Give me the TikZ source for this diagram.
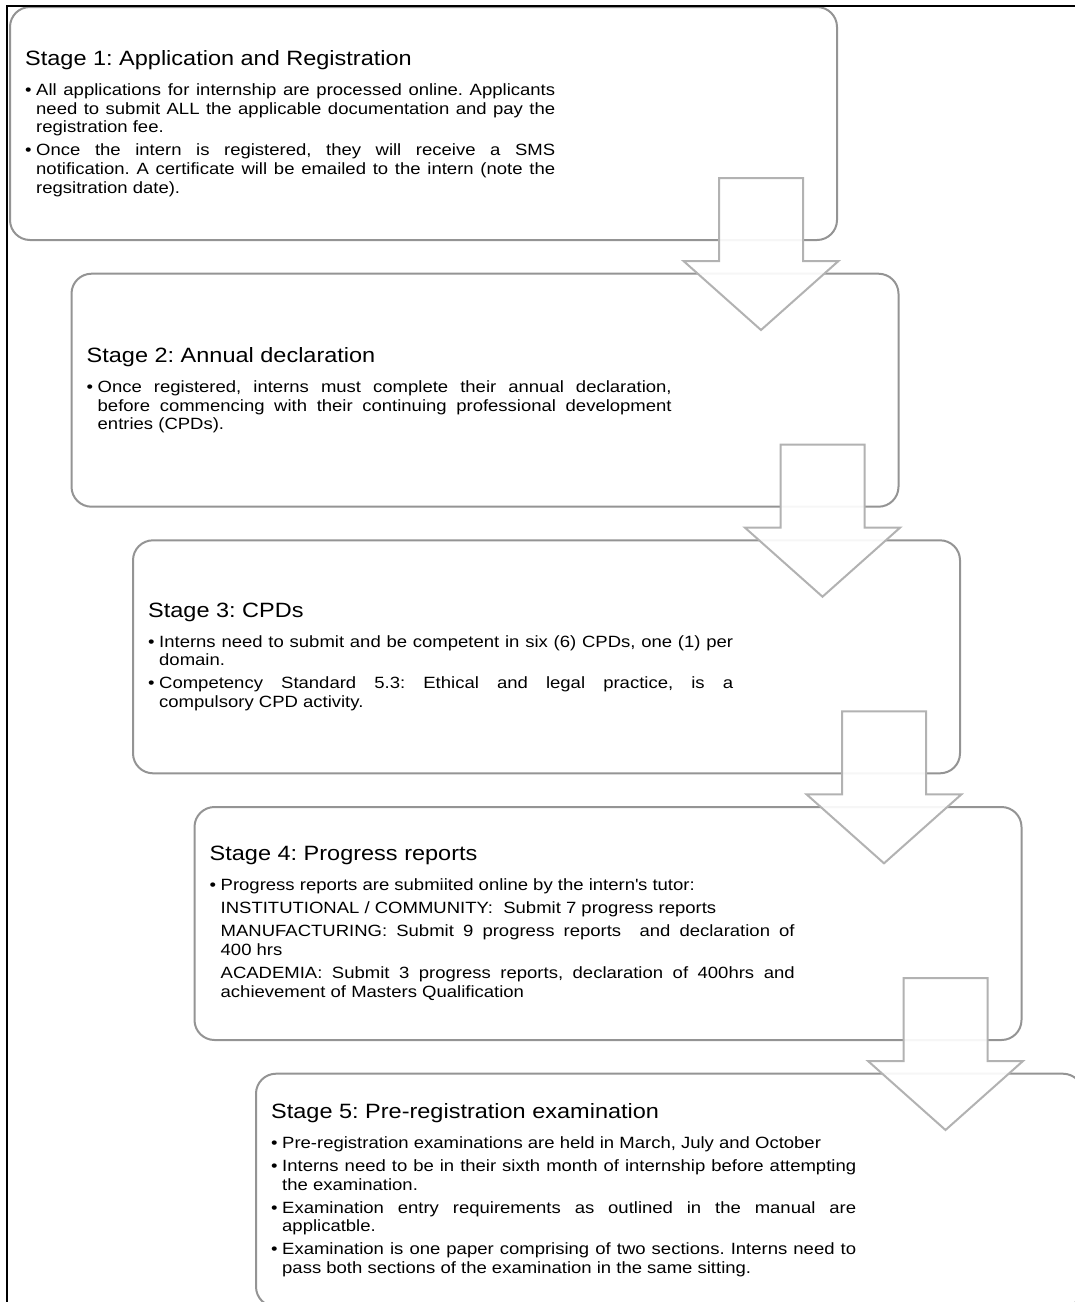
\documentclass[tikz,border=0pt]{standalone}
\usepackage{fontspec}
\setmainfont{Liberation Sans}[FakeStretch=1.135]
\usetikzlibrary{calc}
\definecolor{boxgray}{RGB}{148,148,148}
\definecolor{arrowgray}{RGB}{178,178,178}
\tolerance=10000
\hbadness=10000
\frenchspacing
\newcommand{\stagetitle}[1]{\setlength{\parskip}{4.3pt}{\fontsize{20.7pt}{24pt}\selectfont #1\par}\vspace{7pt}}
\newcommand{\stageitem}[1]{\par\noindent\hangindent=11pt\hangafter=1\makebox[11pt][l]{\textbullet}#1\par}
\newcommand{\stagesub}[1]{\par\noindent\hangindent=11pt\hangafter=0 #1\par}
\tikzset{
    stagebox/.style={draw=boxgray, line width=2pt, fill=white, rounded corners=20pt, outer sep=0pt, inner sep=0pt, minimum width=827pt, minimum height=233pt, anchor=north west},
    stagetext/.style={anchor=west, inner sep=0pt, text width=585pt, align=justify, font=\fontsize{16.3pt}{18.7pt}\selectfont},
    flowarrow/.style={draw=arrowgray, line width=2pt, fill=white, fill opacity=0.92}
}
\begin{document}
\begin{tikzpicture}[x=1pt, y=-1pt]
                \useasboundingbox (0, 0) rectangle (1075, 1302);
                \clip (0, 0) rectangle (1075, 1302);
                \node[stagebox] (s1) at (10, 7) {};
                \node[stagebox] (s2) at (71.5, 273.7) {};
                \node[stagebox] (s3) at (133, 540.3) {};
                \node[stagebox] (s4) at (194.5, 807) {};
                \node[stagebox] (s5) at (256, 1073.7) {};
                \node[stagetext, text width=530pt] (t1) at ($(s1.west)+(15, 0)$) {\stagetitle{Stage 1: Application and Registration}
                    \stageitem{All applications for internship are processed online. Applicants\linebreak need to submit ALL the applicable documentation and pay the\linebreak registration fee.}
                    \stageitem{Once the intern is registered, they will receive a SMS\linebreak notification. A certificate will be emailed to the intern (note the\linebreak regsitration date).}};
                \node[stagetext] (t2) at ($(s2.west)+(15, 0)$) {\stagetitle{Stage 2: Annual declaration}
                    \stageitem{Once registered, interns must complete their annual declaration,\linebreak before commencing with their continuing professional development\linebreak entries (CPDs).}};
                \node[stagetext] (t3) at ($(s3.west)+(15, 0)$) {\stagetitle{Stage 3: CPDs}
                    \stageitem{Interns need to submit and be competent in six (6) CPDs, one (1) per\linebreak domain.}
                    \stageitem{Competency Standard 5.3: Ethical and legal practice, is a\linebreak compulsory CPD activity.}};
                \node[stagetext] (t4) at ($(s4.west)+(15, 0)$) {\stagetitle{Stage 4: Progress reports}
                    \stageitem{Progress reports are submiited online by the intern\textquotesingle s tutor:}
                    \stagesub{INSTITUTIONAL / COMMUNITY:~ Submit 7 progress reports}
                    \stagesub{MANUFACTURING: Submit 9 progress reports~ and declaration of\linebreak 400 hrs}
                    \stagesub{ACADEMIA: Submit 3 progress reports, declaration of 400hrs and\linebreak achievement of Masters Qualification}};
                \node[stagetext] (t5) at ($(s5.west)+(15, 0)$) {\stagetitle{Stage 5: Pre-registration examination}
                    \stageitem{Pre-registration examinations are held in March, July and October}
                    \stageitem{Interns need to be in their sixth month of internship before attempting\linebreak the examination.}
                    \stageitem{Examination entry requirements as outlined in the manual are\linebreak applicatble.}
                    \stageitem{Examination is one paper comprising of two sections. Interns need to\linebreak pass both sections of the examination in the same sitting.}};
                \draw ($(s1.south east)+(-118, -62)$)--++(84, 0)--++(0, 83)--++(35.5, 0)--++(-77.5, 69)--++(-77.5, -69)--++(35.5, 0)--cycle [flowarrow];
                \draw ($(s2.south east)+(-118, -62)$)--++(84, 0)--++(0, 83)--++(35.5, 0)--++(-77.5, 69)--++(-77.5, -69)--++(35.5, 0)--cycle [flowarrow];
                \draw ($(s3.south east)+(-118, -62)$)--++(84, 0)--++(0, 83)--++(35.5, 0)--++(-77.5, 69)--++(-77.5, -69)--++(35.5, 0)--cycle [flowarrow];
                \draw ($(s4.south east)+(-118, -62)$)--++(84, 0)--++(0, 83)--++(35.5, 0)--++(-77.5, 69)--++(-77.5, -69)--++(35.5, 0)--cycle [flowarrow];
                \draw (7, 1302)--(7, 6)--(1075, 6) [line width=1.3pt];
\end{tikzpicture}
\end{document}
